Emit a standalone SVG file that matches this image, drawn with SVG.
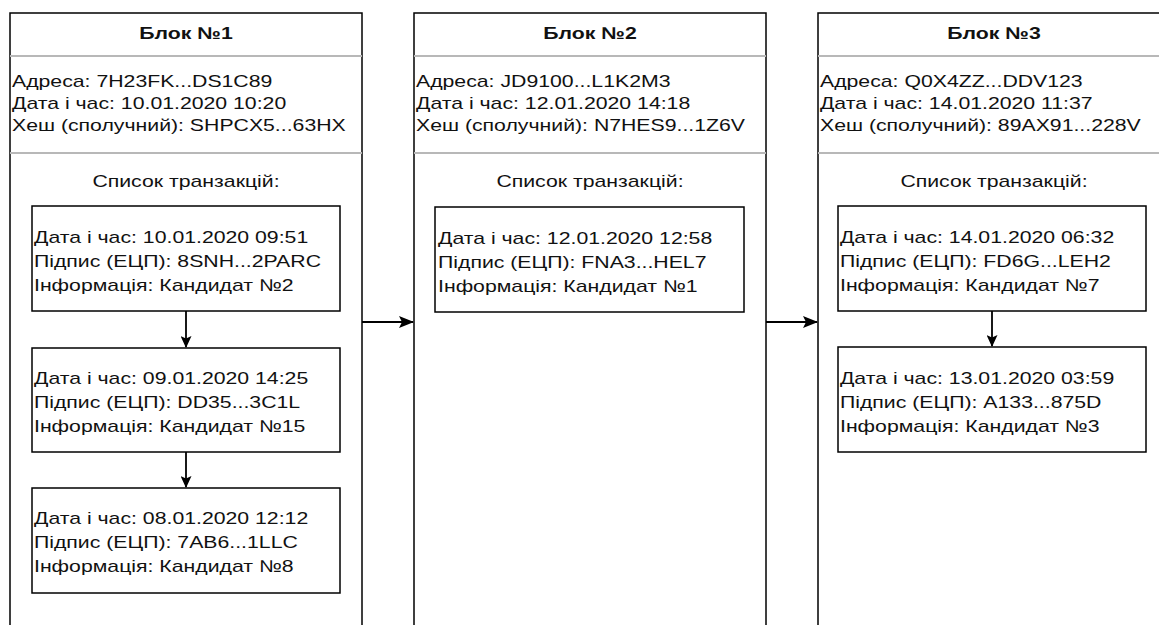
<svg xmlns="http://www.w3.org/2000/svg" width="1159" height="625" viewBox="0 0 1159 625">
<style>
.blk{fill:#fff;stroke:#000;stroke-width:1.5}
.sep{stroke:#b8b8b8;stroke-width:2}
.tx{fill:#fff;stroke:#000;stroke-width:1.5}
text{font-family:"Liberation Sans",Arial,sans-serif;font-size:17px;fill:#111}
.h{font-weight:bold;text-anchor:middle}
.c{text-anchor:middle}
.con{stroke:#000;stroke-width:1.8;fill:none}
</style>
<defs>
<marker id="ah" viewBox="0 0 15 12" refX="14" refY="6" markerWidth="15" markerHeight="12" markerUnits="userSpaceOnUse" orient="auto">
<path d="M0,0 L15,6 L0,12 L3,6 Z" fill="#000"/>
</marker>
<marker id="av" viewBox="0 0 12 11" refX="11" refY="5.5" markerWidth="12" markerHeight="11" markerUnits="userSpaceOnUse" orient="auto">
<path d="M0,0 L12,5.5 L0,11 L2.5,5.5 Z" fill="#000"/>
</marker>
</defs>
<rect width="1159" height="625" fill="#fff"/>

<g id="block1">
<rect class="blk" x="10" y="13" width="352" height="640"/>
<line class="sep" x1="10" y1="56" x2="362" y2="56"/>
<line class="sep" x1="10" y1="153" x2="362" y2="153"/>
<g transform="scale(1.25 1)">
<text class="h" x="148.8" y="39">Блок №1</text>
<text x="9.6" y="87">Адреса: 7H23FK...DS1C89</text>
<text x="9.6" y="109">Дата і час: 10.01.2020 10:20</text>
<text x="9.6" y="131">Хеш (сполучний): SHPCX5...63HX</text>
<text class="c" x="148.8" y="187">Список транзакцій:</text>
</g>
</g>
<g id="tx1a">
<rect class="tx" x="32" y="206" width="308" height="105"/>
<g transform="scale(1.25 1)">
<text x="27.2" y="243">Дата і час: 10.01.2020 09:51</text>
<text x="27.2" y="267">Підпис (ЕЦП): 8SNH...2PARC</text>
<text x="27.2" y="291">Інформація: Кандидат №2</text>
</g>
</g>
<g id="tx1b">
<rect class="tx" x="32" y="348" width="308" height="104"/>
<g transform="scale(1.25 1)">
<text x="27.2" y="384">Дата і час: 09.01.2020 14:25</text>
<text x="27.2" y="408">Підпис (ЕЦП): DD35...3C1L</text>
<text x="27.2" y="432">Інформація: Кандидат №15</text>
</g>
</g>
<g id="tx1c">
<rect class="tx" x="32" y="488" width="308" height="105"/>
<g transform="scale(1.25 1)">
<text x="27.2" y="524">Дата і час: 08.01.2020 12:12</text>
<text x="27.2" y="548">Підпис (ЕЦП): 7AB6...1LLC</text>
<text x="27.2" y="572">Інформація: Кандидат №8</text>
</g>
</g>

<g id="block2">
<rect class="blk" x="414" y="13" width="352" height="640"/>
<line class="sep" x1="414" y1="56" x2="766" y2="56"/>
<line class="sep" x1="414" y1="153" x2="766" y2="153"/>
<g transform="scale(1.25 1)">
<text class="h" x="472" y="39">Блок №2</text>
<text x="332.8" y="87">Адреса: JD9100...L1K2M3</text>
<text x="332.8" y="109">Дата і час: 12.01.2020 14:18</text>
<text x="332.8" y="131">Хеш (сполучний): N7HES9...1Z6V</text>
<text class="c" x="472" y="187">Список транзакцій:</text>
</g>
</g>
<g id="tx2a">
<rect class="tx" x="435" y="207" width="309" height="105"/>
<g transform="scale(1.25 1)">
<text x="350.4" y="244">Дата і час: 12.01.2020 12:58</text>
<text x="350.4" y="268">Підпис (ЕЦП): FNA3...HEL7</text>
<text x="350.4" y="292">Інформація: Кандидат №1</text>
</g>
</g>

<g id="block3">
<rect class="blk" x="818" y="13" width="352" height="640"/>
<line class="sep" x1="818" y1="56" x2="1159" y2="56"/>
<line class="sep" x1="818" y1="153" x2="1159" y2="153"/>
<g transform="scale(1.25 1)">
<text class="h" x="795.2" y="39">Блок №3</text>
<text x="656" y="87">Адреса: Q0X4ZZ...DDV123</text>
<text x="656" y="109">Дата і час: 14.01.2020 11:37</text>
<text x="656" y="131">Хеш (сполучний): 89AX91...228V</text>
<text class="c" x="795.2" y="187">Список транзакцій:</text>
</g>
</g>
<g id="tx3a">
<rect class="tx" x="838" y="206" width="308" height="105"/>
<g transform="scale(1.25 1)">
<text x="672" y="243">Дата і час: 14.01.2020 06:32</text>
<text x="672" y="267">Підпис (ЕЦП): FD6G...LEH2</text>
<text x="672" y="291">Інформація: Кандидат №7</text>
</g>
</g>
<g id="tx3b">
<rect class="tx" x="838" y="347" width="308" height="105"/>
<g transform="scale(1.25 1)">
<text x="672" y="384">Дата і час: 13.01.2020 03:59</text>
<text x="672" y="408">Підпис (ЕЦП): A133...875D</text>
<text x="672" y="432">Інформація: Кандидат №3</text>
</g>
</g>

<g id="connectors">
<line class="con" x1="362" y1="322" x2="413" y2="322" marker-end="url(#ah)"/>
<line class="con" x1="766" y1="322" x2="817" y2="322" marker-end="url(#ah)"/>
<line class="con" x1="186" y1="311" x2="186" y2="347" marker-end="url(#av)"/>
<line class="con" x1="186" y1="452" x2="186" y2="487" marker-end="url(#av)"/>
<line class="con" x1="992" y1="311" x2="992" y2="346" marker-end="url(#av)"/>
</g>
</svg>
